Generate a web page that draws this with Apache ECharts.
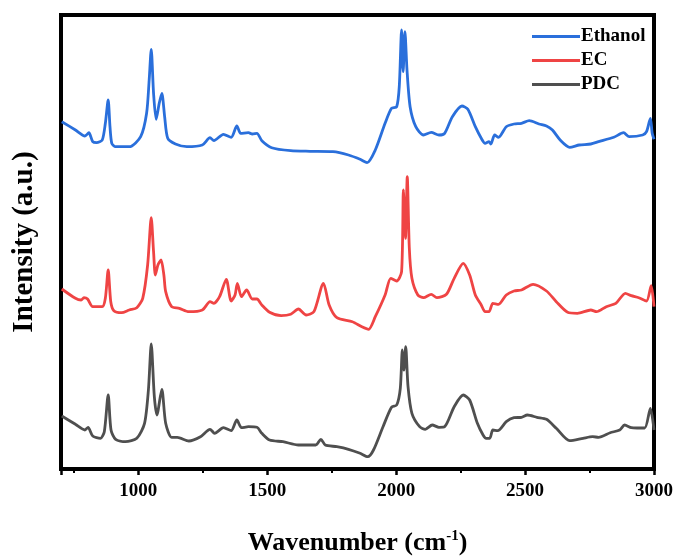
<!DOCTYPE html>
<html>
<head>
<meta charset="utf-8">
<script src="https://cdn.jsdelivr.net/npm/echarts@6/dist/echarts.min.js"></script>
<style>html,body{margin:0;padding:0;background:#fff}#c{width:680px;height:558px}</style>
</head>
<body>
<div id="c"></div>
<script>
// Wavenumber (cm-1) / intensity (a.u., stacked offsets as plotted)
var ethanolX = [703,756,793,808,823,838,860,872,883,890,897,912,965,1009,1032,1042,1050,1059,1069,1081,1091,1102,1114,1144,1188,1248,1278,1293,1330,1360,1382,1397,1427,1442,1460,1479,1517,1591,1666,1755,1815,1860,1887,1919,1957,1982,2002,2012,2021,2027,2034,2042,2054,2076,2106,2136,2166,2188,2218,2255,2278,2307,2330,2345,2360,2367,2382,2397,2427,2457,2486,2516,2554,2583,2606,2636,2673,2710,2755,2785,2844,2882,2904,2956,2971,2986,2993,3000];
var ethanolY = [347.3,339,333,336.3,327.3,326.3,329,345.7,369,342.3,325.7,322.3,322.3,332.3,355.7,389,419.7,375.7,349.7,365.7,375.7,352.3,330.7,325,322.3,324,331.3,328.3,334.7,331.7,343,335.7,336.3,335,335.7,328.3,321.3,318.3,317.7,317.3,314,309.7,306.3,319,345.7,360.7,362.3,382.3,439,397.3,437.3,399,362.3,342.3,334,336.7,334,335.7,352.3,363,359.7,342.3,330.7,325.7,327.3,325,334,331.7,342.3,345,345.7,348.3,345,343,339,329,321.7,324,325,327.3,331.7,336.3,332.3,334,337.3,350.7,335.7,329.7];

var ecX = [703,756,778,789,803,823,860,872,883,893,905,935,965,994,1017,1036,1050,1059,1066,1076,1088,1099,1106,1129,1159,1196,1248,1278,1293,1315,1341,1360,1375,1384,1400,1420,1442,1460,1479,1509,1554,1591,1621,1651,1681,1718,1740,1770,1830,1867,1893,1919,1957,1979,2002,2021,2028,2036,2043,2051,2061,2084,2106,2136,2158,2195,2225,2260,2285,2307,2330,2345,2360,2375,2397,2427,2457,2486,2531,2583,2621,2665,2703,2755,2777,2815,2852,2889,2912,2941,2971,2989,3000];
var ecY = [180,170.7,169,171.3,170,162.3,162.3,170.7,199,167.3,158.3,156.3,159,161.3,170.7,204,251.3,217.3,194,204,209,194,177.3,162.3,160.7,157.3,159,167.3,165.7,172.3,189.7,168,174,185.7,172.3,179,170,170,164,156.7,153.3,154.7,160,154,157.3,185.7,164,151.3,147.3,142.3,139.7,152.3,174,190.7,188,197.3,279,230.7,292.3,220.7,190.7,174,171.3,174.7,171.3,174.7,190.7,205.7,194,174,164,157.3,157.3,165.7,164.7,174,178,179,184.7,178,167.3,156.7,155.7,159,157.3,162.3,165.7,175.7,173.3,171.3,168,183.3,162.3];

var pdcX = [703,756,793,805,823,853,868,883,894,912,950,994,1024,1039,1050,1062,1072,1091,1106,1129,1151,1196,1241,1278,1296,1330,1360,1382,1400,1427,1460,1479,1509,1561,1621,1688,1708,1725,1770,1815,1860,1890,1912,1949,1982,2002,2016,2024,2030,2037,2046,2061,2091,2113,2140,2166,2188,2225,2260,2285,2315,2337,2349,2363,2375,2394,2427,2457,2486,2509,2546,2583,2621,2673,2725,2762,2785,2830,2867,2886,2912,2934,2964,2986,3000];
var pdcY = [53,44.7,39,41.7,33,30.7,37.3,74,39,29.7,27.3,30.7,45.7,79,125,72.3,54,79.7,45.7,31.7,31.7,28,32.3,39.7,35.7,41.3,38.3,49,41.3,42.3,41.7,35.7,29,27.3,24,24,29.7,24,22.3,19.7,15.7,12.3,19,42.3,61.7,64,80.7,119,99,122.3,82.3,55.7,42.3,39.7,44,41.7,42.3,62.3,74,69,45.7,34,30.7,30.7,39,38.3,47.3,51.3,51.7,54,51.7,49.7,40.7,28.3,30.7,32.3,31.7,36.3,39,44,41.3,41,41,60.7,39];

var seriesNames = ['Ethanol', 'EC', 'PDC'];
var seriesColors = ['#2a6fdb', '#ef4444', '#4f4f4f'];
var xMin = 700, xMax = 3000;

function pairs(xs, ys) { return xs.map(function (x, i) { return [x, ys[i]]; }); }

var font = 'Liberation Serif, Times New Roman, serif';
var chart = echarts.init(document.getElementById('c'), null, { renderer: 'canvas' });
var dataSets = [pairs(ethanolX, ethanolY), pairs(ecX, ecY), pairs(pdcX, pdcY)];

chart.setOption({
  animation: false,
  backgroundColor: '#fff',
  grid: { left: 61, right: 26, top: 15, bottom: 89, show: true, borderColor: '#000', borderWidth: 4,
    containLabel: false, outerBoundsMode: 'none' },
  legend: {
    orient: 'vertical', left: 527, top: 22, itemWidth: 48, itemHeight: 3, itemGap: 5, icon: 'rect',
    data: seriesNames,
    textStyle: { fontFamily: font, fontWeight: 'bold', fontSize: 19, color: '#000', padding: [0, 0, 0, -4] }
  },
  xAxis: {
    type: 'value', min: xMin, max: xMax,
    name: '{a|Wavenumber (cm}{s|-1}{a|)}', nameLocation: 'middle', nameGap: 60,
    nameTextStyle: { rich: {
      a: { fontFamily: font, fontWeight: 'bold', fontSize: 26, color: '#000' },
      s: { fontFamily: font, fontWeight: 'bold', fontSize: 15, color: '#000', verticalAlign: 'top', padding: [0, 0, 14, 0] }
    } },
    axisLine: { show: true, lineStyle: { color: '#000', width: 4 } },
    axisTick: { show: true, inside: false, length: 6, lineStyle: { color: '#000', width: 2.5 } },
    minorTick: { show: true, splitNumber: 2, length: 4, lineStyle: { color: '#000', width: 2 } },
    axisLabel: { showMinLabel: false, margin: 13, fontFamily: font, fontWeight: 'bold', fontSize: 19, color: '#000',
      formatter: function (v) { return String(v); } },
    splitLine: { show: false }
  },
  yAxis: {
    type: 'value', min: 0, max: 454,
    name: 'Intensity (a.u.)', nameLocation: 'middle', nameGap: 22,
    nameTextStyle: { fontFamily: font, fontWeight: 'bold', fontSize: 29, color: '#000' },
    axisLine: { show: true, lineStyle: { color: '#000', width: 4 } },
    axisTick: { show: false }, axisLabel: { show: false }, splitLine: { show: false }
  },
  series: seriesNames.map(function (n, i) {
    return {
      name: n, type: 'line', data: dataSets[i], showSymbol: false, symbol: 'none',
      smooth: 0.25, color: seriesColors[i],
      lineStyle: { width: 2.8, color: seriesColors[i] }
    };
  })
});
</script>
</body>
</html>
